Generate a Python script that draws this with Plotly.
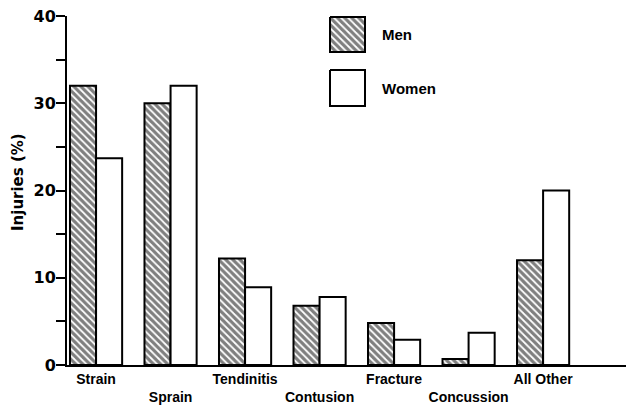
import plotly.graph_objects as go

categories = ["Strain", "Sprain", "Tendinitis", "Contusion", "Fracture", "Concussion", "All Other"]
men = [32.0, 30.0, 12.2, 6.8, 4.8, 0.7, 12.0]
women = [23.7, 32.0, 8.9, 7.8, 2.9, 3.7, 20.0]
tick_labels = ["Strain", "<br>Sprain", "Tendinitis", "<br>Contusion", "Fracture", "<br>Concussion", "All Other"]
y_ticks = [0, 10, 20, 30, 40]

FONT = "Liberation Sans"
NUMFONT = "DejaVu Sans"
PAGE_OFF = 8            # default body margin of the html page
PW, PH = 634, 411       # window size
W, H = PW - PAGE_OFF, PH - PAGE_OFF
PLOT_L, PLOT_R, PLOT_T, PLOT_B = 67, 634, 16, 365   # plot area in page pixels


def px_to_paper(px, py):
    return (px - PLOT_L) / (PLOT_R - PLOT_L), (PLOT_B - py) / (PLOT_B - PLOT_T)


HATCH = dict(shape="\\", fgcolor="black", bgcolor="white", size=5, solidity=0.65)

fig = go.Figure()
fig.add_trace(go.Bar(
    x=categories, y=men, name="Men",
    marker=dict(color="white", line=dict(color="black", width=2), pattern=HATCH),
    showlegend=False,
))
fig.add_trace(go.Bar(
    x=categories, y=women, name="Women",
    marker=dict(color="white", line=dict(color="black", width=2)),
    showlegend=False,
))

# legend boxes drawn on an overlay axis measured in page pixels
legend_boxes = [
    ("Men", 330, 365, 17, 52, True),
    ("Women", 330, 365, 70, 106, False),
]
for name, x0, x1, y0, y1, hatched in legend_boxes:
    kw = {"fillpattern": HATCH} if hatched else {}
    fig.add_trace(go.Scatter(
        x=[x0, x1, x1, x0, x0], y=[y0, y0, y1, y1, y0],
        mode="lines", fill="toself", fillcolor="white",
        line=dict(color="black", width=2),
        xaxis="x2", yaxis="y2", showlegend=False, hoverinfo="skip", **kw,
    ))
    fig.add_annotation(x=380, y=(y0 + y1) / 2, xref="x2", yref="y2", text=name,
                       showarrow=False, xanchor="left", yanchor="middle",
                       font=dict(family=FONT, size=15, color="black", weight="bold"))

# y-axis title
tx, ty = px_to_paper(18, 182)
fig.add_annotation(x=tx, y=ty, xref="paper", yref="paper", text="Injuries (%)",
                   textangle=-90, showarrow=False, xanchor="center", yanchor="middle",
                   font=dict(family=NUMFONT, size=15, color="black", weight="bold"))

fig.update_layout(
    width=W, height=H,
    margin=dict(l=PLOT_L - PAGE_OFF, r=PW - PLOT_R, t=PLOT_T - PAGE_OFF, b=PH - PLOT_B, pad=0),
    paper_bgcolor="white", plot_bgcolor="white",
    barmode="group", bargap=0.30, bargroupgap=0.0,
    font=dict(family=FONT, size=14, color="black", weight="bold"),
    xaxis=dict(
        type="category", range=[-0.39, 7.22],
        tickvals=categories, ticktext=tick_labels,
        showline=True, linecolor="black", linewidth=2,
        ticks="", showgrid=False, zeroline=False, automargin=False,
        ticklabeloverflow="allow",
        tickfont=dict(family=FONT, size=14, color="black", weight="bold"),
    ),
    yaxis=dict(
        range=[0, 40], tickvals=y_ticks,
        showline=True, linecolor="black", linewidth=2,
        ticks="outside", ticklen=9, tickwidth=2, tickcolor="black",
        minor=dict(dtick=5, ticks="outside", ticklen=9, tickwidth=2, tickcolor="black"),
        showgrid=False, zeroline=False, automargin=False,
        ticklabeloverflow="allow", ticklabelstandoff=-3,
        tickfont=dict(family=NUMFONT, size=16, color="black", weight="bold"),
    ),
    xaxis2=dict(overlaying="x", range=[PLOT_L, PLOT_R], visible=False, fixedrange=True),
    yaxis2=dict(overlaying="y", range=[PLOT_B, PLOT_T], autorange=False, visible=False, fixedrange=True),
)

fig.write_html("out.html")
